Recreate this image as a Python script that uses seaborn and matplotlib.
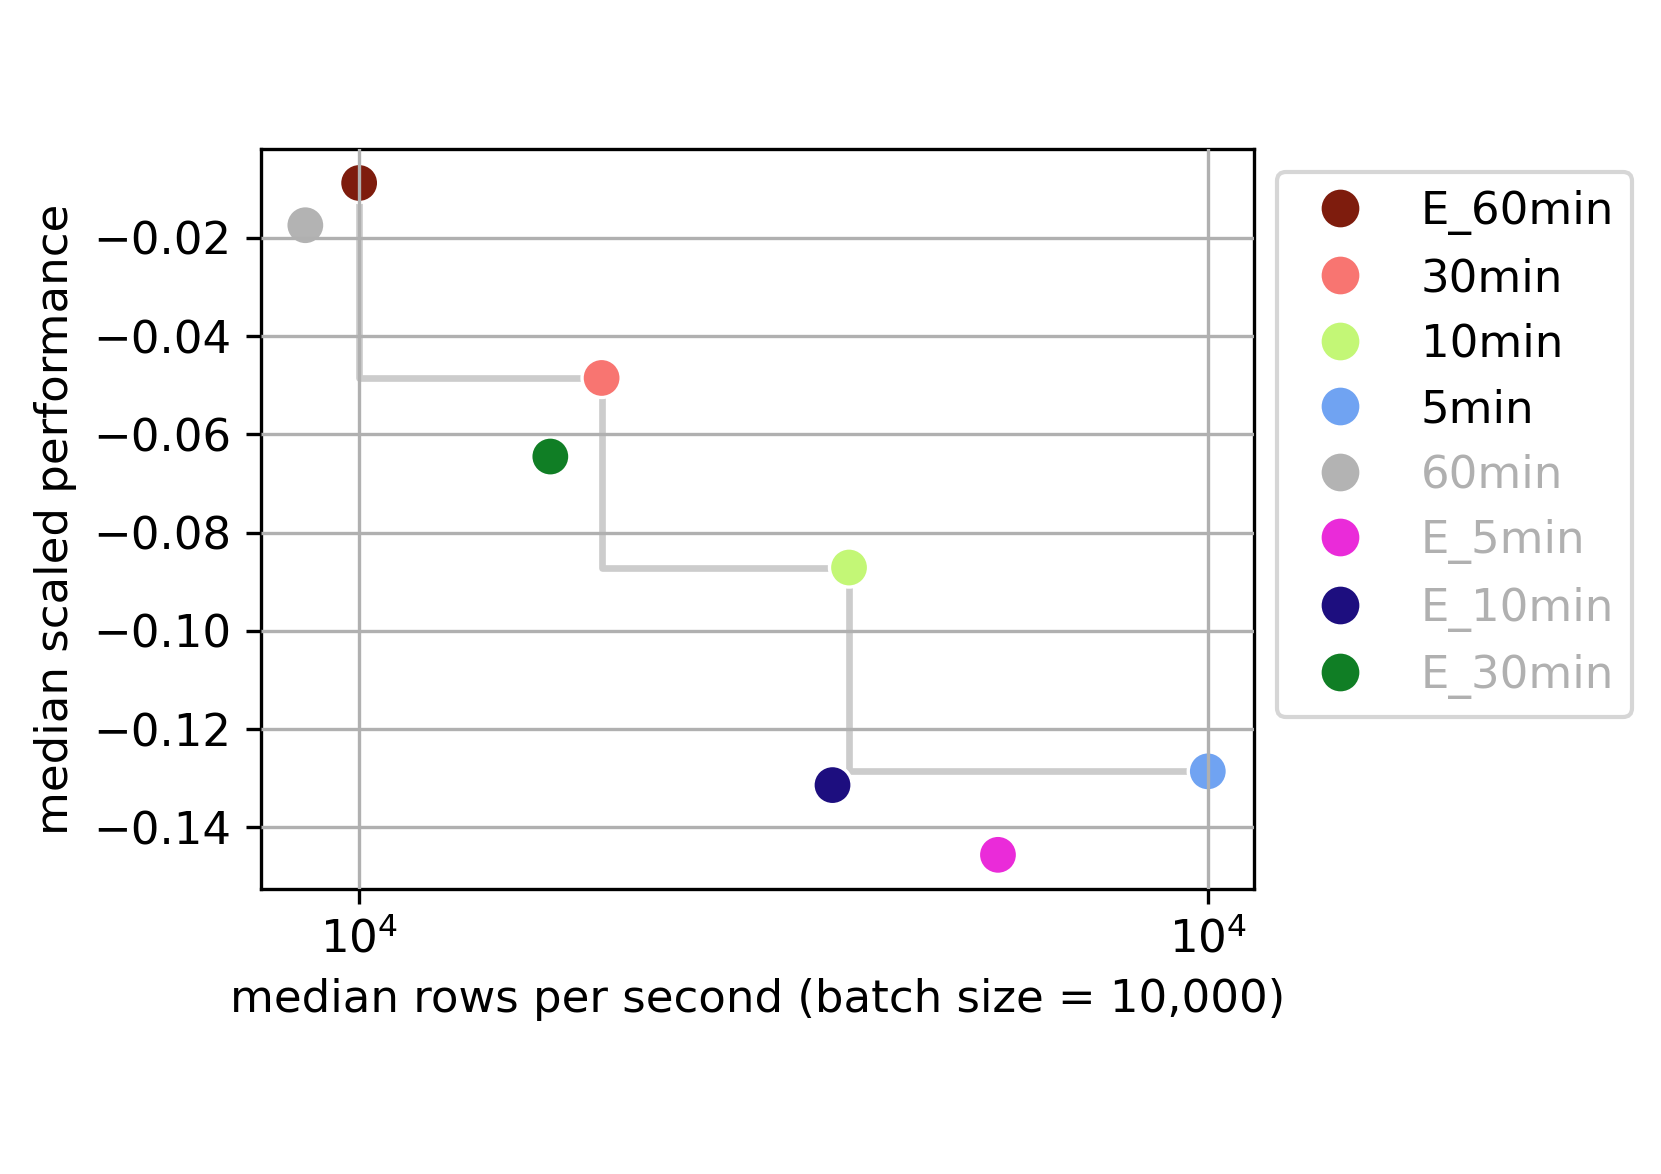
import matplotlib
matplotlib.use("Agg")
import matplotlib.pyplot as plt
import pandas as pd
import seaborn as sns

# data
labels = ["E_60min", "30min", "10min", "5min", "60min", "E_5min", "E_10min", "E_30min"]
rows_per_sec = [10000, 12190, 14920, 20000, 9570, 16850, 14720, 11690]
perf = [-0.0088, -0.0485, -0.0871, -0.1286, -0.0174, -0.1456, -0.1314, -0.0645]
on_front = [True, True, True, True, False, False, False, False]
colors = ["#7e1c0d", "#f87571", "#c3f776", "#70a3f2", "#b3b3b3", "#ea2bd9", "#1d0e7f", "#107e25"]

xtick_pos = [10000, 20000]
xtick_labels = ["$10^{4}$", "$10^{4}$"]
yticks = [-0.02, -0.04, -0.06, -0.08, -0.10, -0.12, -0.14]

df = pd.DataFrame({"label": labels, "x": rows_per_sec, "y": perf, "front": on_front})
front = df[df["front"]]

plt.rcParams["font.family"] = ["DejaVu Sans"]
plt.rcParams["font.size"] = 10.8

fig, ax = plt.subplots(figsize=(1661 / 300, 1174 / 300), dpi=300)
fig.subplots_adjust(left=0.157, right=0.755, bottom=0.243, top=0.873)

# pareto front as a step line
sns.lineplot(data=front, x="x", y="y", drawstyle="steps-pre", color="#cccccc",
             linewidth=1.6, legend=False, ax=ax, zorder=1)
sns.scatterplot(data=df, x="x", y="y", hue="label", hue_order=labels,
                palette=dict(zip(labels, colors)), s=88, edgecolor="white",
                linewidth=0.8, ax=ax, zorder=2)

ax.set_xscale("log")
ax.set_xlim(9228, 20770)
ax.set_ylim(-0.1525, -0.0019)
ax.set_xticks(xtick_pos)
ax.set_xticklabels(xtick_labels)
ax.xaxis.set_minor_locator(matplotlib.ticker.NullLocator())
ax.set_yticks(yticks)
ax.set_yticklabels([f"{v:.2f}".replace("-", "\u2212") for v in yticks])

ax.set_axisbelow(False)
ax.grid(True, color="#b0b0b0", linewidth=0.8)

ax.set_xlabel("median rows per second (batch size = 10,000)")
ax.set_ylabel("median scaled performance")

sns.move_legend(ax, "upper left", bbox_to_anchor=(1, 1), title=None, frameon=True,
                markerscale=1.05)
leg = ax.get_legend()
for txt, f in zip(leg.get_texts(), on_front):
    if not f:
        txt.set_color("#b0b0b0")

fig.savefig("out.png", dpi=300)
